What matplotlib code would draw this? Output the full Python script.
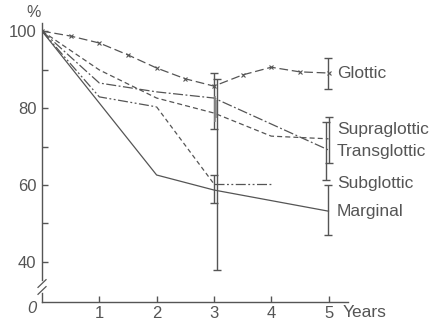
import matplotlib.pyplot as plt

# survival curves (years, %)
glottic_x = [0, 0.5, 1, 1.5, 2, 2.5, 3, 3.5, 4, 4.5, 5]
glottic_y = [100, 98.7, 96.9, 93.8, 90.4, 87.6, 85.7, 88.6, 90.6, 89.4, 89.1]
supra_x = [0, 1, 2, 3, 4, 5]
supra_y = [100, 89.9, 82.6, 78.7, 72.7, 72.0]
trans_x = [0, 1, 2, 3, 5]
trans_y = [100, 86.5, 84.2, 82.6, 69.1]
subglottic_x = [0, 1, 2, 3, 4]
subglottic_y = [100, 82.9, 80.3, 60.3, 60.3]
marginal_x = [0, 2, 3, 5]
marginal_y = [100, 62.6, 58.7, 53.2]

# vertical range bars (x, low, high, with caps)
bar_x = [3.0, 3.06, 3.0, 4.99, 5.01, 4.96, 4.99]
bar_low = [74.5, 37.9, 55.3, 84.9, 65.7, 61.3, 47.0]
bar_high = [89.0, 87.5, 62.6, 93.0, 77.7, 76.4, 60.0]
# the grey overlapping bars at year 3 (no caps)
thin_x = [3.02, 3.04]
thin_low = [76.5, 77.5]
thin_high = [83.0, 82.0]

labels = ['Glottic', 'Supraglottic', 'Transglottic', 'Subglottic', 'Marginal']
label_y = [89.1, 74.3, 68.6, 60.3, 53.2]

ytick_vals = [40, 50, 60, 70, 80, 90, 100]
ytick_text = ['40', '', '60', '', '80', '', '100']
xtick_vals = [1, 2, 3, 4, 5]

ink = '#555555'
plt.rcParams['font.family'] = ['Liberation Sans', 'DejaVu Sans']

fig = plt.figure(figsize=(4.35, 3.22), dpi=100)
ax = fig.add_axes([0.0966, 0.0621, 0.7034, 0.8665])
ybot = 29.6
ax.set_xlim(0, 5.34)
ax.set_ylim(ybot, 102.1)

lw = 0.9
ax.plot(glottic_x, glottic_y, color=ink, lw=lw, ls=(0, (7, 3)),
        marker='x', ms=2.5, mew=0.8)
ax.plot(supra_x, supra_y, color=ink, lw=lw, ls=(0, (4, 2.5)))
ax.plot(trans_x, trans_y, color=ink, lw=lw, ls=(0, (8, 2, 1.5, 2)))
# subglottic: dash-dot-dot, with the 2->3 year drop drawn dashed
ax.plot(subglottic_x[:3], subglottic_y[:3], color=ink, lw=lw,
        ls=(0, (8, 2, 1.5, 2, 1.5, 2)))
ax.plot(subglottic_x[2:4], subglottic_y[2:4], color=ink, lw=lw,
        ls=(0, (3.5, 2.5)))
ax.plot(subglottic_x[3:], subglottic_y[3:], color=ink, lw=lw,
        ls=(0, (8, 2, 1.5, 2, 1.5, 2)))
ax.plot(marginal_x, marginal_y, color=ink, lw=lw, ls='-')

for x, lo, hi in zip(bar_x, bar_low, bar_high):
    mid = (lo + hi) / 2
    ax.errorbar([x], [mid], yerr=[[mid - lo], [hi - mid]], fmt='none',
                ecolor=ink, elinewidth=1.0, capsize=3, capthick=1.0)
ax.vlines(thin_x, thin_low, thin_high, color='#888888', lw=1.2)

for name, y in zip(labels, label_y):
    ax.text(5.15, y, name, color=ink, fontsize=12.5, va='center', ha='left')

# axes styling
for s in ['top', 'right']:
    ax.spines[s].set_visible(False)
ax.spines['left'].set_bounds(35.3, 102.1)
for s in ['left', 'bottom']:
    ax.spines[s].set_color(ink)
    ax.spines[s].set_linewidth(1.0)
ax.set_yticks(ytick_vals)
ax.set_yticklabels(ytick_text)
ax.set_xticks(xtick_vals)
ax.tick_params(direction='in', colors=ink, labelsize=12, length=4, width=1.0)
ax.tick_params(axis='y', pad=4)
ax.tick_params(axis='x', pad=3)

# broken y axis near the origin
ax.plot([0, 0], [ybot, 32.0], color=ink, lw=1.0, clip_on=False)
ax.plot([-0.07, 0.07], [33.4, 35.4], color=ink, lw=0.9, clip_on=False)
ax.plot([-0.07, 0.07], [31.6, 33.6], color=ink, lw=0.9, clip_on=False)
ax.text(-0.17, 27.8, '0', color=ink, fontsize=12, ha='center', va='center',
        style='italic')
ax.text(-0.15, 104.8, '%', color=ink, fontsize=11.5, ha='center', va='center')
ax.text(5.25, ybot - 0.9, 'Years', color=ink, fontsize=12.5, ha='left', va='top')

fig.savefig('out.png', dpi=100)
